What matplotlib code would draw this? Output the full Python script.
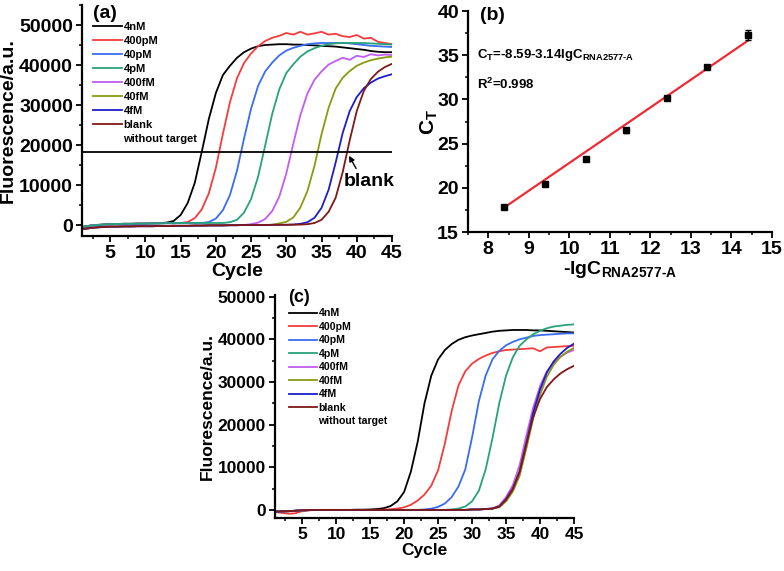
import numpy as np
import matplotlib
matplotlib.use("Agg")
import matplotlib.pyplot as plt
from matplotlib.ticker import MultipleLocator
from matplotlib.lines import Line2D

plt.rcParams['font.family'] = ['Liberation Sans', 'DejaVu Sans']
plt.rcParams['font.weight'] = 'bold'
plt.rcParams['axes.labelweight'] = 'bold'
plt.rcParams['mathtext.fontset'] = 'custom'
plt.rcParams['mathtext.rm'] = 'Liberation Sans:bold'
plt.rcParams['mathtext.it'] = 'Liberation Sans:bold'
plt.rcParams['mathtext.bf'] = 'Liberation Sans:bold'

# ---- data (fluorescence in units of 1000 a.u.) ----
cycles = np.arange(1, 46)
labels = ['4nM', '400pM', '40pM', '4pM', '400fM', '40fM', '4fM', 'blank']
extra_label = 'without target'
colors = ['#000000', '#f53b3b', '#3a6cf0', '#27a27a', '#c35cf2', '#8a9a10', '#1c1ccc', '#801818']

# panel (a)
a_4nM = [-0.5, -0.2, 0.0, 0.1, 0.2, 0.25, 0.3, 0.3, 0.35, 0.35, 0.4, 0.45,
         0.6, 1.0, 2.5, 5.5, 10.5, 18.3, 26.5, 33.0, 37.5, 39.8, 41.8, 43.2,
         44.1, 44.7, 45.0, 45.1, 45.2, 45.2, 45.1, 45.1, 45.0, 44.9, 44.8, 44.7,
         44.6, 44.4, 44.2, 44.0, 43.8, 43.5, 43.3, 43.2, 43.2]
a_400pM = [-0.5, -0.2, 0.0, 0.1, 0.2, 0.25, 0.3, 0.3, 0.35, 0.35, 0.4, 0.4,
           0.45, 0.45, 0.5, 0.75, 1.7, 3.9, 7.9, 14.3, 22.8, 30.7, 36.7, 40.5,
           42.9, 44.7, 46.0, 46.8, 47.3, 48.0, 47.6, 48.3, 47.6, 47.9, 48.3, 47.6,
           47.8, 47.2, 47.0, 47.5, 46.6, 46.8, 45.8, 45.5, 45.2]
a_40pM = [-0.5, -0.2, 0.0, 0.1, 0.2, 0.25, 0.3, 0.3, 0.35, 0.35, 0.4, 0.4,
          0.45, 0.45, 0.5, 0.5, 0.5, 0.5, 0.75, 1.6, 3.7, 7.5, 13.6, 21.6,
          29.1, 34.8, 38.4, 40.6, 42.4, 43.6, 44.3, 44.8, 45.2, 45.4, 45.5, 45.5,
          45.5, 45.5, 45.4, 45.2, 45.0, 44.8, 44.7, 44.6, 44.5]
a_4pM = [-0.5, -0.2, 0.0, 0.1, 0.2, 0.25, 0.3, 0.3, 0.35, 0.35, 0.4, 0.4,
         0.45, 0.45, 0.5, 0.5, 0.5, 0.5, 0.5, 0.5, 0.5, 0.7, 1.3, 3.1,
         6.5, 12.1, 19.9, 27.8, 33.9, 38.0, 40.2, 42.1, 43.4, 44.2, 44.8, 45.2,
         45.4, 45.5, 45.5, 45.5, 45.5, 45.4, 45.3, 45.2, 45.1]
a_400fM = [-1.0, -0.8, -0.6, -0.5, -0.4, -0.4, -0.35, -0.35, -0.3, -0.3, -0.3, -0.25,
           -0.25, -0.2, -0.2, -0.2, -0.15, -0.15, -0.1, -0.1, -0.1, -0.05, -0.05, 0.0,
           0.2, 0.6, 1.5, 3.5, 7.1, 12.9, 20.4, 27.5, 32.9, 36.3, 38.4, 40.1,
           41.0, 41.8, 41.3, 42.3, 42.0, 42.7, 42.4, 42.6, 42.5]
a_40fM = [-1.0, -0.8, -0.6, -0.5, -0.4, -0.4, -0.35, -0.35, -0.3, -0.3, -0.3, -0.25,
          -0.25, -0.2, -0.2, -0.2, -0.15, -0.15, -0.1, -0.1, -0.1, -0.05, -0.05, 0.0,
          0.0, 0.0, 0.0, 0.05, 0.4, 0.8, 1.9, 4.4, 8.5, 14.8, 22.7, 29.3,
          34.1, 36.8, 38.5, 39.8, 40.6, 41.2, 41.6, 41.9, 42.1]
a_4fM = [-1.0, -0.8, -0.6, -0.5, -0.4, -0.4, -0.35, -0.35, -0.3, -0.3, -0.3, -0.25,
         -0.25, -0.2, -0.2, -0.2, -0.15, -0.15, -0.1, -0.1, -0.1, -0.05, -0.05, 0.0,
         0.0, 0.0, 0.0, 0.05, 0.05, 0.05, 0.1, 0.3, 0.7, 1.8, 4.3, 8.8,
         15.6, 23.0, 28.5, 32.0, 34.2, 35.6, 36.6, 37.2, 37.7]
a_blank = [-1.0, -0.8, -0.6, -0.5, -0.4, -0.4, -0.35, -0.35, -0.3, -0.3, -0.3, -0.25,
           -0.25, -0.2, -0.2, -0.2, -0.15, -0.15, -0.1, -0.1, -0.1, -0.05, -0.05, 0.0,
           0.0, 0.0, 0.0, 0.05, 0.05, 0.05, 0.1, 0.1, 0.2, 0.5, 1.3, 3.3,
           6.8, 13.2, 21.2, 28.5, 33.5, 36.5, 38.3, 39.5, 40.3]
threshold_a = 18.3

# panel (b)
neg_lgC = [8.4, 9.4, 10.4, 11.4, 12.4, 13.4, 14.4]
ct_vals = [17.8, 20.4, 23.3, 26.5, 30.2, 33.7, 37.3]
ct_err = [0.1, 0.15, 0.2, 0.25, 0.2, 0.15, 0.6]
fit_intercept, fit_slope = -8.59, 3.14

# panel (c)
c_4nM = [-0.4, -0.35, -0.3, -0.2, -0.1, -0.05, 0.0, 0.0, 0.0, 0.0, 0.0, 0.0,
         0.05, 0.05, 0.1, 0.2, 0.4, 0.9, 2.0, 4.2, 9.0, 16.0, 25.0, 31.5,
         35.3, 37.5, 38.9, 39.9, 40.5, 40.9, 41.2, 41.5, 41.8, 42.0, 42.1, 42.2,
         42.2, 42.2, 42.1, 42.1, 42.0, 41.9, 41.8, 41.7, 41.6]
c_400pM = [-0.5, -0.7, -0.9, -0.8, -0.3, -0.1, 0.0, 0.0, 0.0, 0.0, 0.0, 0.0,
           0.0, 0.0, 0.0, 0.0, 0.05, 0.15, 0.3, 0.6, 1.2, 2.2, 3.6, 5.7,
           9.3, 15.6, 23.2, 29.2, 32.5, 34.3, 35.4, 36.2, 36.8, 37.2, 37.5, 37.6,
           37.7, 37.8, 37.9, 37.2, 38.1, 38.2, 38.3, 38.4, 38.5]
c_40pM = [-0.4, -0.35, -0.3, -0.2, -0.1, -0.05, 0.0, 0.0, 0.0, 0.0, 0.0, 0.0,
          0.0, 0.0, 0.0, 0.0, 0.0, 0.0, 0.0, 0.0, 0.0, 0.0, 0.1, 0.3,
          0.7, 1.5, 3.0, 5.5, 9.5, 17.0, 25.5, 31.5, 35.3, 37.3, 38.6, 39.4,
          40.0, 40.4, 40.8, 41.0, 41.1, 41.2, 41.3, 41.4, 41.4]
c_4pM = [-0.4, -0.35, -0.3, -0.2, -0.1, -0.05, 0.0, 0.0, 0.0, 0.0, 0.0, 0.0,
         0.0, 0.0, 0.0, 0.0, 0.0, 0.0, 0.0, 0.0, 0.0, 0.0, 0.0, 0.0,
         0.0, 0.0, 0.1, 0.3, 0.8, 2.0, 4.5, 9.5, 16.8, 25.0, 31.5, 35.8,
         38.5, 40.0, 41.2, 42.0, 42.6, 43.0, 43.2, 43.4, 43.5]
c_400fM = [-0.4, -0.35, -0.3, -0.2, -0.1, -0.05, 0.0, 0.0, 0.0, 0.0, 0.0, 0.0,
           0.0, 0.0, 0.0, 0.0, 0.0, 0.0, 0.0, 0.0, 0.0, 0.0, 0.0, 0.0,
           0.0, 0.0, 0.0, 0.0, 0.0, 0.1, 0.1, 0.2, 0.4, 1.0, 3.0, 5.8,
           10.5, 17.5, 24.0, 29.0, 32.5, 34.5, 35.9, 36.9, 37.5]
c_40fM = [-0.4, -0.35, -0.3, -0.2, -0.1, -0.05, 0.0, 0.0, 0.0, 0.0, 0.0, 0.0,
          0.0, 0.0, 0.0, 0.0, 0.0, 0.0, 0.0, 0.0, 0.0, 0.0, 0.0, 0.0,
          0.0, 0.0, 0.0, 0.0, 0.0, 0.1, 0.1, 0.2, 0.3, 0.6, 2.0, 4.3,
          8.0, 14.5, 21.5, 27.0, 31.2, 34.0, 35.9, 37.1, 38.0]
c_4fM = [-0.4, -0.35, -0.3, -0.2, -0.1, -0.05, 0.0, 0.0, 0.0, 0.0, 0.0, 0.0,
         0.0, 0.0, 0.0, 0.0, 0.0, 0.0, 0.0, 0.0, 0.0, 0.0, 0.0, 0.0,
         0.0, 0.0, 0.0, 0.0, 0.0, 0.1, 0.1, 0.2, 0.3, 0.8, 2.5, 5.0,
         9.0, 15.8, 22.8, 28.2, 32.2, 34.8, 36.6, 38.0, 39.0]
c_blank = [-0.4, -0.35, -0.3, -0.2, -0.1, -0.05, 0.0, 0.0, 0.0, 0.0, 0.0, 0.0,
           0.0, 0.0, 0.0, 0.0, 0.0, 0.0, 0.0, 0.0, 0.0, 0.0, 0.0, 0.0,
           0.0, 0.0, 0.0, 0.0, 0.0, 0.1, 0.1, 0.2, 0.3, 0.8, 2.4, 4.9,
           9.0, 15.5, 21.8, 26.0, 28.8, 30.6, 32.0, 33.0, 33.8]

a_curves = [a_4nM, a_400pM, a_40pM, a_4pM, a_400fM, a_40fM, a_4fM, a_blank]
c_curves = [c_4nM, c_400pM, c_40pM, c_4pM, c_400fM, c_40fM, c_4fM, c_blank]


def style(ax, fs):
    for s in ("top", "right"):
        ax.spines[s].set_visible(False)
    for s in ("left", "bottom"):
        ax.spines[s].set_linewidth(1.6)
    ax.tick_params(which="major", direction="out", length=4.5, width=1.3, labelsize=fs, pad=2)
    ax.tick_params(which="minor", direction="out", length=2.5, width=1.1)


def qpcr_legend(ax, lines, anchor, fs, spacing):
    # "without target" sits under "blank" as a handle-less row
    hs = lines + [Line2D([], [], color="none")]
    ax.legend(hs, labels + [extra_label], loc="upper left", bbox_to_anchor=anchor,
              frameon=False, fontsize=fs, handlelength=2.6, handletextpad=0.15,
              labelspacing=spacing, borderpad=0, borderaxespad=0)


W, H = 784, 571
fig = plt.figure(figsize=(W / 100, H / 100), dpi=100)

# ---------- (a) ----------
ax = fig.add_axes([82 / W, 1 - 236 / H, 310 / W, 231 / H])
lines = []
for y, col in zip(a_curves, colors):
    lines += ax.plot(cycles, np.array(y) * 1000, color=col, lw=1.3)
ax.axhline(threshold_a * 1000, color="k", lw=1.3)
ax.set_xlim(1, 45); ax.set_ylim(-2750, 55000)
ax.xaxis.set_major_locator(MultipleLocator(5)); ax.xaxis.set_minor_locator(MultipleLocator(2.5))
ax.yaxis.set_major_locator(MultipleLocator(10000)); ax.yaxis.set_minor_locator(MultipleLocator(5000))
style(ax, 14)
ax.set_xlabel("Cycle", fontsize=14, labelpad=1)
ax.set_ylabel("Fluorescence/a.u.", fontsize=14, labelpad=2)
qpcr_legend(ax, lines, (0.035, 0.927), 8, 0.36)
ax.text(0.035, 0.963, "(a)", transform=ax.transAxes, fontsize=14, va="center", ha="left")
ax.annotate("blank", xy=(38.9, 17300), xytext=(38.2, 11000), fontsize=14, va="center", ha="left",
            arrowprops=dict(arrowstyle="-|>", color="k", lw=1, mutation_scale=8,
                            relpos=(0.28, 1.0), shrinkA=1, shrinkB=0))

# ---------- (b) ----------
ax = fig.add_axes([468 / W, 1 - 232 / H, 304 / W, 221 / H])
xf = np.array([neg_lgC[0], neg_lgC[-1]])
ax.plot(xf, fit_intercept + fit_slope * xf, color="#ee2b35", lw=1.6, zorder=2)
ax.errorbar(neg_lgC, ct_vals, yerr=ct_err, fmt="s", color="k", ms=4.5, capsize=2.5,
            elinewidth=1, capthick=1, zorder=3)
ax.set_xlim(7.5, 15); ax.set_ylim(15, 40)
ax.xaxis.set_major_locator(MultipleLocator(1)); ax.xaxis.set_minor_locator(MultipleLocator(0.5))
ax.yaxis.set_major_locator(MultipleLocator(5)); ax.yaxis.set_minor_locator(MultipleLocator(2.5))
style(ax, 14)
ax.set_xlabel(r"-lgC$_{\mathrm{RNA2577\text{-}A}}$", fontsize=14, labelpad=1)
ax.set_ylabel(r"C$_{\mathrm{T}}$", fontsize=15, labelpad=-2)
ax.text(0.04, 0.98, "(b)", transform=ax.transAxes, fontsize=14, va="center", ha="left")
ax.text(0.03, 0.80, r"C$_{\mathrm{T}}$=-8.59-3.14lgC$_{\mathrm{RNA2577\text{-}A}}$",
        transform=ax.transAxes, fontsize=9.5, va="center", ha="left")
ax.text(0.03, 0.67, r"R$^{\mathrm{2}}$=0.998", transform=ax.transAxes, fontsize=9.5,
        va="center", ha="left")

# ---------- (c) ----------
ax = fig.add_axes([275 / W, 1 - 518 / H, 299 / W, 223 / H])
lines = []
for y, col in zip(c_curves, colors):
    lines += ax.plot(cycles, np.array(y) * 1000, color=col, lw=1.3)
ax.set_xlim(1, 45); ax.set_ylim(-1900, 50400)
ax.xaxis.set_major_locator(MultipleLocator(5)); ax.xaxis.set_minor_locator(MultipleLocator(2.5))
ax.yaxis.set_major_locator(MultipleLocator(10000)); ax.yaxis.set_minor_locator(MultipleLocator(5000))
style(ax, 12.5)
ax.set_xlabel("Cycle", fontsize=12.5, labelpad=1)
ax.set_ylabel("Fluorescence/a.u.", fontsize=12.5, labelpad=2)
qpcr_legend(ax, lines, (0.048, 0.94), 7.6, 0.33)
ax.text(0.043, 0.99, "(c)", transform=ax.transAxes, fontsize=13, va="center", ha="left")

fig.savefig("out.png", dpi=100)
